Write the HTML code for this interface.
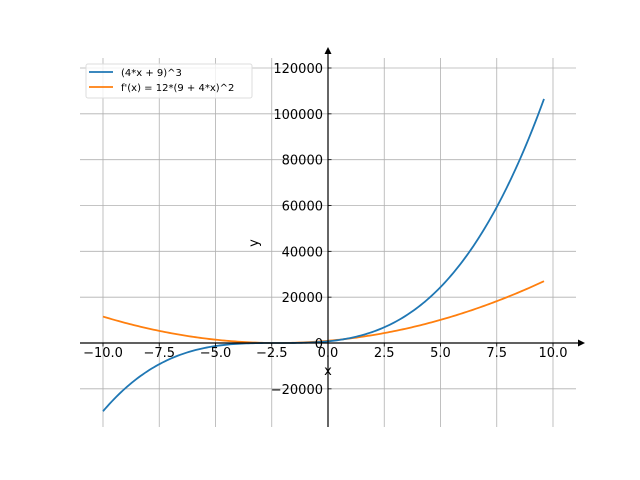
<!DOCTYPE html>
<html><head><style>body{margin:0;background:#fff}svg{display:block}</style></head>
<body>
<svg id="s" width="640" height="480" xmlns="http://www.w3.org/2000/svg" font-family="DejaVu Sans, Liberation Sans, sans-serif">
<g id="grid" stroke="#b0b0b0" stroke-width="0.8"></g>
<path id="p2" fill="none" stroke="#ff7f0e" stroke-width="1.8"/>
<path id="p1" fill="none" stroke="#1f77b4" stroke-width="1.8"/>
<line x1="80" y1="343" x2="580" y2="343" stroke="#000" stroke-width="1.2"/>
<polygon points="585,343 578,339.5 578,346.5" fill="#000"/>
<line x1="328" y1="427" x2="328" y2="53" stroke="#000" stroke-width="1.2"/>
<polygon points="328,47 324.5,54 331.5,54" fill="#000"/>
<g id="ticks" stroke="#000" stroke-width="0.8"></g>
<g id="labels" font-size="13" fill="#000"></g>
<text x="328" y="375" font-size="13" text-anchor="middle">x</text>
<text x="258" y="243" font-size="13" text-anchor="middle" transform="rotate(-90 258 243)">y</text>
<rect x="86" y="64" width="166" height="34" fill="#fff" fill-opacity="0.8" stroke="#ddd" rx="2"/>
<line x1="89" y1="72" x2="113" y2="72" stroke="#1f77b4" stroke-width="1.8"/>
<line x1="89" y1="87" x2="113" y2="87" stroke="#ff7f0e" stroke-width="1.8"/>
<text x="121" y="76" font-size="10">(4*x + 9)^3</text>
<text x="121" y="91" font-size="10">f'(x) = 12*(9 + 4*x)^2</text>
</svg>
<script>
const X=x=>328+22.5*x, Y=y=>343-y*275/120000;
const ns="http://www.w3.org/2000/svg";
function el(p,t,a,txt){const e=document.createElementNS(ns,t);for(const k in a)e.setAttribute(k,a[k]);if(txt!==undefined)e.textContent=txt;document.getElementById(p).appendChild(e);}
for(let i=-4;i<=4;i++){const v=i*2.5,x=X(v);el('grid','line',{x1:x,y1:58,x2:x,y2:427});el('ticks','line',{x1:x,y1:343,x2:x,y2:346.5});
el('labels','text',{x:x,y:357,'text-anchor':'middle'},(v<0?'\u2212':'')+Math.abs(v).toFixed(1));}
for(let v=-20000;v<=120000;v+=20000){const y=Y(v);el('grid','line',{x1:80,y1:y,x2:576,y2:y});el('ticks','line',{x1:328,y1:y,x2:331.5,y2:y});
el('labels','text',{x:323,y:y+5,'text-anchor':'end'},(v<0?'\u2212':'')+Math.abs(v));}
let a='',b='';for(let i=0;i<=200;i++){const x=-10+19.6*i/200;a+=(i?'L':'M')+X(x).toFixed(2)+','+Y(Math.pow(4*x+9,3)).toFixed(2);b+=(i?'L':'M')+X(x).toFixed(2)+','+Y(12*Math.pow(9+4*x,2)).toFixed(2);}
document.getElementById('p1').setAttribute('d',a);document.getElementById('p2').setAttribute('d',b);
</script>
</body></html>
